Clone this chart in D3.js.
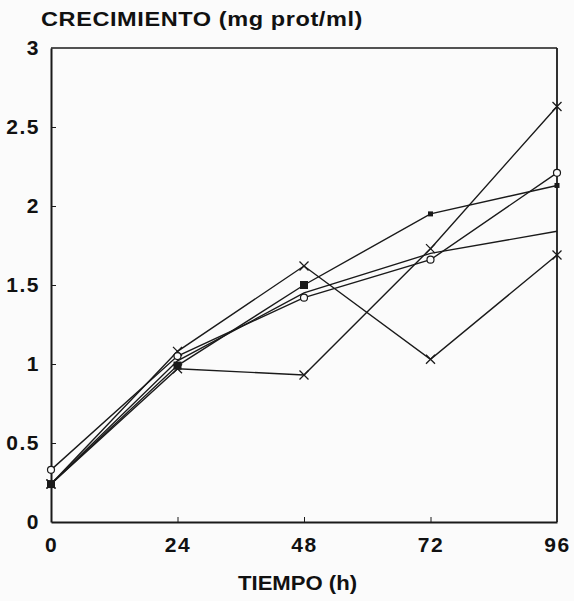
<!DOCTYPE html>
<html>
<head>
<meta charset="utf-8">
<script src="https://cdn.jsdelivr.net/npm/d3@7"></script>
<style>
  html, body { margin: 0; padding: 0; background: #fbfbfb; }
  text { font-family: "Liberation Sans", Arial, Helvetica, sans-serif; font-weight: bold; fill: #111; }
</style>
</head>
<body>
<svg id="chart" width="574" height="601"></svg>
<script>
// Sampling times (h)
const times = [0, 24, 48, 72, 96];
const xTicks = [0, 24, 48, 72, 96];
const yTicks = [0, 0.5, 1, 1.5, 2, 2.5, 3];

// Growth (mg prot/ml) for each culture
const serieCruzA = [0.24, 0.97, 0.93, 1.73, 2.63];
const serieCruzB = [0.24, 1.08, 1.62, 1.03, 1.69];
const serieCuadrado = [0.24, 0.99, 1.50, 1.95, 2.13];
const serieCirculo = [0.33, 1.05, 1.42, 1.66, 2.21];
const serieSimple = [0.24, 1.02, 1.45, 1.70, 1.84];

const series = [
  { values: serieCruzA, marker: "cross" },
  { values: serieCruzB, marker: "cross" },
  { values: serieCuadrado, marker: "square" },
  { values: serieCirculo, marker: "circle" },
  { values: serieSimple, marker: "none" }
];

const svg = d3.select("#chart");
const plotLeft = 51, plotRight = 557, plotTop = 48, plotBottom = 522;

const x = d3.scaleLinear().domain([0, 96]).range([plotLeft, plotRight]);
const y = d3.scaleLinear().domain([0, 3]).range([plotBottom, plotTop]);
const ink = "#1a1a1a";

// Frame
svg.append("line").attr("x1", plotLeft).attr("x2", plotRight).attr("y1", plotTop).attr("y2", plotTop)
  .attr("stroke", ink).attr("stroke-width", 1.3);
svg.append("line").attr("x1", plotRight).attr("x2", plotRight).attr("y1", plotTop).attr("y2", plotBottom)
  .attr("stroke", ink).attr("stroke-width", 1.8);

// Axes with inward ticks
const yAxis = svg.append("g").attr("transform", `translate(${plotLeft},0)`)
  .call(d3.axisLeft(y).tickValues(yTicks).tickSizeInner(-5).tickSizeOuter(0)
    .tickPadding(11).tickFormat(d => d));
const xAxis = svg.append("g").attr("transform", `translate(0,${plotBottom})`)
  .call(d3.axisBottom(x).tickValues(xTicks).tickSizeInner(-5).tickSizeOuter(0).tickPadding(15));

[yAxis, xAxis].forEach(g => {
  g.select(".domain").attr("stroke", ink).attr("stroke-width", 2);
  g.selectAll(".tick line").attr("stroke", ink).attr("stroke-width", 1);
  g.selectAll(".tick text").style("font-size", "21px").style("font-family", "Liberation Sans, Arial, sans-serif")
    .style("font-weight", "bold").style("letter-spacing", "1.5px").attr("fill", "#111");
});
xAxis.selectAll(".tick").filter(d => d === 0 || d === 96).select("line").remove();
yAxis.selectAll(".tick").filter(d => d === 0 || d === 3).select("line").remove();

// Lines
const line = d3.line().x((d, i) => x(times[i])).y(d => y(d));
series.forEach(s => {
  svg.append("path").datum(s.values).attr("d", line)
    .attr("fill", "none").attr("stroke", ink).attr("stroke-width", 1.4);
});

// Markers
series.forEach(s => {
  const g = svg.append("g");
  s.values.forEach((v, i) => {
    const cx = x(times[i]), cy = y(v);
    if (s.marker === "cross") {
      const r = 4.5;
      g.append("path").attr("d", `M${cx - r},${cy - r}L${cx + r},${cy + r}M${cx - r},${cy + r}L${cx + r},${cy - r}`)
        .attr("stroke", ink).attr("stroke-width", 1.3);
    } else if (s.marker === "square") {
      const r = i < 3 ? 4 : 2.5;
      g.append("rect").attr("x", cx - r).attr("y", cy - r).attr("width", 2 * r).attr("height", 2 * r)
        .attr("fill", ink);
    } else if (s.marker === "circle") {
      g.append("circle").attr("cx", cx).attr("cy", cy).attr("r", 3.5)
        .attr("fill", "#fbfbfb").attr("stroke", ink).attr("stroke-width", 1.2);
    }
  });
});

// Titles
svg.append("text").attr("x", 41).attr("y", 26).style("font-size", "20px").style("letter-spacing", "0.5px")
  .attr("textLength", 322).attr("lengthAdjust", "spacingAndGlyphs")
  .text("CRECIMIENTO (mg prot/ml)");
svg.append("text").attr("x", 238).attr("y", 590).style("font-size", "20px")
  .attr("textLength", 119).attr("lengthAdjust", "spacingAndGlyphs")
  .text("TIEMPO (h)");
</script>
</body>
</html>
